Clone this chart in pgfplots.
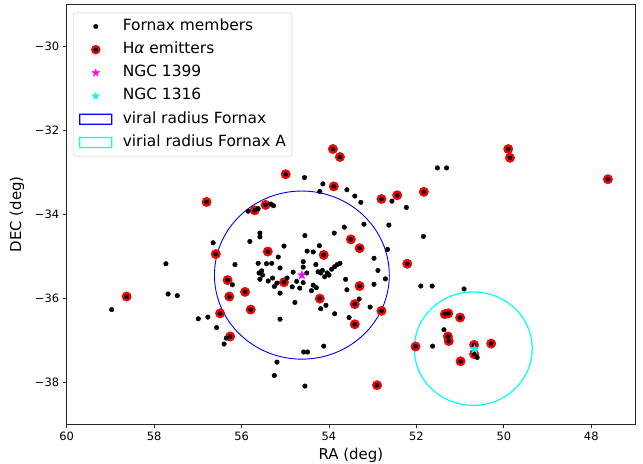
\documentclass[border=0pt]{standalone}
\usepackage{fontspec}
\setmainfont{DejaVu Sans}
\usepackage{pgfplots}
\pgfplotsset{compat=1.18}
\usepackage{pgfplotstable}
\usetikzlibrary{calc}

\definecolor{mcyan}{RGB}{0,255,255}
\definecolor{mmag}{RGB}{255,0,255}
\definecolor{mblue}{RGB}{0,0,255}
\definecolor{mred}{RGB}{255,0,0}

\pgfdeclareplotmark{fstar}{%
  \pgfpathmoveto{\pgfpoint{0pt}{\pgfplotmarksize}}%
  \pgfpathlineto{\pgfpoint{-0.2245\pgfplotmarksize}{0.309\pgfplotmarksize}}%
  \pgfpathlineto{\pgfpoint{-0.951\pgfplotmarksize}{0.309\pgfplotmarksize}}%
  \pgfpathlineto{\pgfpoint{-0.363\pgfplotmarksize}{-0.118\pgfplotmarksize}}%
  \pgfpathlineto{\pgfpoint{-0.588\pgfplotmarksize}{-0.809\pgfplotmarksize}}%
  \pgfpathlineto{\pgfpoint{0pt}{-0.382\pgfplotmarksize}}%
  \pgfpathlineto{\pgfpoint{0.588\pgfplotmarksize}{-0.809\pgfplotmarksize}}%
  \pgfpathlineto{\pgfpoint{0.363\pgfplotmarksize}{-0.118\pgfplotmarksize}}%
  \pgfpathlineto{\pgfpoint{0.951\pgfplotmarksize}{0.309\pgfplotmarksize}}%
  \pgfpathlineto{\pgfpoint{0.2245\pgfplotmarksize}{0.309\pgfplotmarksize}}%
  \pgfpathclose
  \pgfusepathqfillstroke}

\pgfdeclareplotmark{ringrect}{%
  \pgfseteorule
  \pgfpathrectanglecorners{\pgfpoint{-16.6bp}{-5.6bp}}{\pgfpoint{16.6bp}{5.6bp}}%
  \pgfpathrectanglecorners{\pgfpoint{-15.3bp}{-4.3bp}}{\pgfpoint{15.3bp}{4.3bp}}%
  \pgfusepathqfill}

\pgfplotstableread{
ra dec
58.63 -35.96
56.80 -33.71
56.59 -34.95
56.32 -35.57
56.28 -35.96
55.92 -35.85
55.79 -36.27
56.49 -36.36
56.26 -36.91
55.70 -33.91
55.45 -33.78
54.99 -33.05
55.40 -34.89
55.03 -35.62
54.12 -34.97
54.21 -36.01
53.89 -33.34
53.91 -32.45
53.75 -32.64
53.50 -34.60
53.30 -34.81
53.30 -35.71
53.41 -36.14
53.41 -36.62
52.80 -36.30
52.80 -33.64
52.44 -33.55
51.83 -33.47
52.21 -35.18
49.90 -32.45
49.86 -32.66
47.62 -33.17
52.90 -38.07
52.02 -37.15
51.35 -36.38
51.27 -36.36
51.00 -36.46
51.28 -36.91
51.26 -37.02
50.68 -37.11
50.68 -37.33
50.29 -37.08
50.99 -37.50
}\halpha

\pgfplotstableread{
ra dec
58.97 -36.27
57.73 -35.18
57.68 -35.90
57.47 -35.94
56.65 -34.68
56.15 -35.20
56.21 -35.68
55.85 -33.93
55.62 -33.87
55.33 -33.76
55.27 -33.80
54.56 -33.13
54.14 -33.28
54.21 -33.46
53.59 -33.42
53.41 -33.57
53.27 -33.72
52.56 -33.69
52.23 -33.84
51.52 -32.90
51.31 -32.90
52.63 -34.26
53.20 -34.24
53.65 -34.31
53.88 -34.45
54.55 -34.51
55.58 -34.45
55.58 -34.54
55.81 -34.65
55.03 -34.76
54.22 -34.75
52.66 -34.84
51.84 -34.53
55.16 -35.02
54.50 -34.88
54.36 -34.90
55.62 -35.17
55.43 -35.18
55.31 -35.17
55.12 -35.28
54.59 -35.13
54.59 -35.26
54.82 -35.38
54.51 -35.40
54.30 -35.20
55.54 -35.35
55.60 -35.40
55.52 -35.45
55.58 -35.55
55.39 -35.59
55.29 -35.52
55.19 -35.64
55.25 -35.72
55.12 -35.88
54.96 -35.52
54.84 -35.73
54.74 -35.60
54.67 -35.76
54.59 -35.63
54.25 -35.37
54.15 -35.34
54.04 -35.40
53.94 -35.31
53.87 -35.25
53.81 -35.20
53.75 -35.17
54.00 -35.45
54.19 -35.40
54.10 -35.49
54.40 -35.82
54.36 -35.69
54.29 -35.75
54.78 -36.10
55.12 -36.50
56.99 -36.49
56.77 -36.45
56.57 -36.70
56.35 -36.95
56.40 -37.09
54.58 -37.28
54.49 -37.28
55.19 -37.52
55.25 -37.84
54.55 -38.09
54.12 -37.14
53.87 -36.37
54.07 -36.17
54.19 -36.25
53.54 -36.46
53.59 -35.80
53.31 -36.02
53.06 -36.21
52.97 -35.67
53.62 -35.55
52.71 -35.54
52.88 -35.34
52.97 -35.05
51.90 -35.71
51.64 -35.71
50.91 -35.78
51.37 -36.75
51.63 -37.14
50.61 -37.41
}\members

\begin{document}
\begin{tikzpicture}
\begin{axis}[
  name=ax,
  scale only axis, width=568.3bp, height=420.3bp,
  xmin=47, xmax=60, x dir=reverse,
  ymin=-39, ymax=-29,
  xtick={48,50,52,54,56,58,60},
  ytick={-38,-36,-34,-32,-30},
  yticklabels={−38,−36,−34,−32,−30},
  /pgf/number format/assume math mode=true,
  tick align=outside, tick pos=left, major tick length=4bp,
  tick style={black!85, line width=0.8bp},
  axis line style={black!85, line width=0.8bp},
  tick label style={font=\fontsize{11.5}{13}\selectfont},
  label style={font=\fontsize{15}{18}\selectfont},
  xlabel={RA (deg)}, ylabel={DEC (deg)},
  xlabel style={at={(axis description cs:0.5,-0.073)}, anchor=center},
  ylabel style={at={(axis description cs:-0.0875,0.5)}, anchor=center},
  legend style={at={(0,1)}, anchor=north west, xshift=6.3bp, yshift=-8.7bp,
    draw=black!20, rounded corners=2bp, fill=white, fill opacity=0.8, text opacity=1,
    font=\fontsize{15.5}{18}\selectfont, inner xsep=6bp, inner ysep=5bp, row sep=6bp,
    nodes={inner xsep=0bp, inner ysep=1bp, text height=11.5bp, text depth=3.7bp}},
  legend cell align=left,
]
\addlegendimage{legend image code/.code={\path[draw=none, fill=none] (0bp,-5bp) rectangle (43bp,5bp); \path[draw=none, fill=none, mark size=2.2bp] plot[only marks, mark=*, mark options={fill=black, draw=black, fill opacity=1, draw opacity=1, sharp corners}] coordinates {(16bp,0bp)};}}
\addlegendentry{Fornax members}
\addlegendimage{legend image code/.code={\path[draw=none, fill=none] (0bp,-5bp) rectangle (43bp,5bp); \path[draw=none, fill=none, mark size=4.5bp] plot[only marks, mark=*, mark options={fill=mred, draw=red!80!black, line width=0.4bp, fill opacity=1, draw opacity=1, sharp corners}] coordinates {(16bp,0bp)}; \path[draw=none, fill=none, mark size=2bp] plot[only marks, mark=*, mark options={fill=black, draw=black, fill opacity=1, draw opacity=1, sharp corners}] coordinates {(16bp,0bp)};}}
\addlegendentry{H\textit{α} emitters}
\addlegendimage{legend image code/.code={\path[draw=none, fill=none] (0bp,-5bp) rectangle (43bp,5bp); \path[draw=none, fill=none, mark size=4bp] plot[only marks, mark=fstar, mark options={fill=mmag, draw=mmag, fill opacity=1, draw opacity=1, sharp corners}] coordinates {(16bp,0bp)};}}
\addlegendentry{NGC 1399}
\addlegendimage{legend image code/.code={\path[draw=none, fill=none] (0bp,-5bp) rectangle (43bp,5bp); \path[draw=none, fill=none, mark size=4bp] plot[only marks, mark=fstar, mark options={fill=mcyan, draw=mcyan, fill opacity=1, draw opacity=1, sharp corners}] coordinates {(16bp,0bp)};}}
\addlegendentry{NGC 1316}
\addlegendimage{legend image code/.code={\path[draw=none, fill=none] (0bp,-5bp) rectangle (43bp,5bp); \path[draw=none, fill=none] plot[only marks, mark=ringrect, mark options={fill=mblue, draw=none, fill opacity=1, sharp corners}] coordinates {(16bp,0bp)};}}
\addlegendentry{viral radius Fornax}
\addlegendimage{legend image code/.code={\path[draw=none, fill=none] (0bp,-5bp) rectangle (43bp,5bp); \path[draw=none, fill=none] plot[only marks, mark=ringrect, mark options={fill=mcyan, draw=none, fill opacity=1, sharp corners}] coordinates {(16bp,0bp)};}}
\addlegendentry{virial radius Fornax A}

\draw[mblue, line width=0.9bp] (axis cs:54.62,-35.45) ellipse [x radius=2, y radius=2];
\draw[mcyan, line width=1.2bp] (axis cs:50.70,-37.20) ellipse [x radius=1.35, y radius=1.35];

\addplot[only marks, mark=*, mark size=4.7bp, mark options={fill=mred, draw=red!80!black, line width=0.4bp}, forget plot] table[x=ra, y=dec] {\halpha};
\addplot[only marks, mark=*, mark size=2.3bp, black, forget plot] table[x=ra, y=dec] {\members};
\addplot[only marks, mark=*, mark size=2.1bp, black, forget plot] table[x=ra, y=dec] {\halpha};
\addplot[only marks, mark=fstar, mark size=4.5bp, mark options={fill=mmag, draw=mmag}, forget plot] coordinates {(54.62,-35.45)};
\addplot[only marks, mark=fstar, mark size=4.5bp, mark options={fill=mcyan, draw=mcyan}, forget plot] coordinates {(50.67,-37.21)};
\end{axis}
\pgfresetboundingbox
\path ($(ax.south west)+(-66.7bp,-39.7bp)$) rectangle ($(ax.north east)+(8bp,4bp)$);
\end{tikzpicture}
\end{document}
